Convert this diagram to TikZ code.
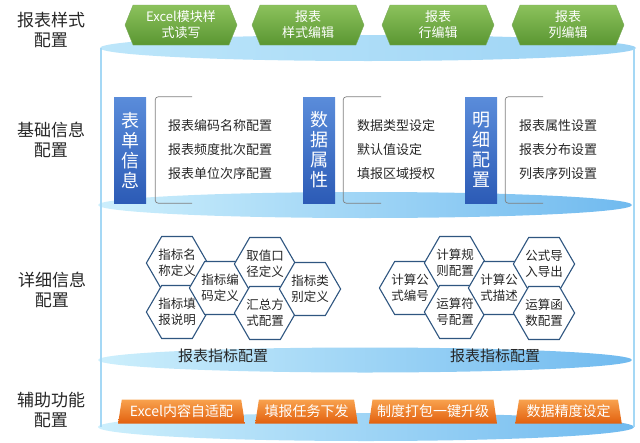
\documentclass[tikz,border=0pt]{standalone}
\usepackage{fontspec}
\setmainfont{Noto Sans CJK SC}
\usepackage{xcolor}
\usetikzlibrary{shapes.geometric,shapes.symbols,positioning}
\definecolor{discLeft}{HTML}{CDEFFC}
\definecolor{discRight}{HTML}{70BAEF}
\definecolor{discTopL}{HTML}{BDE6FA}
\definecolor{discTopR}{HTML}{9CD3F5}
\definecolor{wallBlue}{HTML}{A5D8F5}
\definecolor{greenTop}{HTML}{8CC25C}
\definecolor{greenBot}{HTML}{5A9632}
\definecolor{tagTop}{HTML}{5A8CDA}
\definecolor{tagBot}{HTML}{2C5BB6}
\definecolor{hexBorder}{HTML}{2F5680}
\definecolor{orangeTop}{HTML}{F8A24E}
\definecolor{orangeBot}{HTML}{E2600E}
\tikzset{
	layerdisc/.style = {
		ellipse,
		inner sep = 0pt,
		left color = discLeft,
		right color = discRight,
	},
	wall/.style = {draw = wallBlue, line width = 2.5pt},
	sidelabel/.style = {
		align = center,
		font = \fontsize{17}{20}\selectfont,
		text = black!85,
	},
	stylebox/.style = {
		signal,
		signal to = west and east,
		signal pointer angle = 136,
		minimum width = 112pt,
		minimum height = 40pt,
		inner sep = 0pt,
		align = center,
		text = white,
		font = \fontsize{13}{16}\selectfont,
		top color = greenTop,
		bottom color = greenBot,
		draw = greenBot!80!white,
	},
	tagbox/.style = {
		rectangle,
		minimum width = 32pt,
		minimum height = 106pt,
		inner sep = 0pt,
		align = center,
		text = white,
		font = \fontsize{18}{20}\selectfont,
		top color = tagTop,
		bottom color = tagBot,
	},
	itemlist/.style = {
		anchor = west,
		align = left,
		inner sep = 0pt,
		font = \fontsize{13}{24}\selectfont,
		text = black!85,
	},
	bracketline/.style = {draw = black!50, line width = 0.7pt, rounded corners = 3pt},
	hexcell/.style = {
		regular polygon,
		regular polygon sides = 6,
		minimum size = 56pt,
		inner sep = 0pt,
		draw = hexBorder,
		line width = 1.1pt,
		fill = white,
		align = center,
		font = \fontsize{12.5}{16}\selectfont,
		text = black!85,
	},
	fieldtitle/.style = {font = \fontsize{15}{18}\selectfont, text = black!85},
	auxbox/.style = {
		trapezium,
		trapezium stretches = true,
		trapezium left angle = 76,
		trapezium right angle = 76,
		minimum height = 24pt,
		inner sep = 0pt,
		text = white,
		font = \fontsize{14}{16}\selectfont,
		top color = orangeTop,
		bottom color = orangeBot,
	}
}
\begin{document}
\begin{tikzpicture}[x = 1pt, y = -1pt]
	\useasboundingbox (0,0) rectangle (640,442);
	% layers of the cylinder
	\node[layerdisc, minimum width = 536pt, minimum height = 26pt, left color = discTopL, right color = discTopR](discTop) at (368,48){};
	\node[layerdisc, minimum width = 534pt, minimum height = 26pt](discBase) at (365,205){};
	\node[layerdisc, minimum width = 534pt, minimum height = 25pt](discDetail) at (365,360){};
	\node[layerdisc, minimum width = 536pt, minimum height = 28pt](discAux) at (366,427){};
	\draw[wall]([xshift = 1pt]discTop.west) -- ([xshift = 1pt]discTop.west |- discAux.center);
	\draw[wall]([xshift = -2pt]discTop.east) -- ([xshift = -2pt]discTop.east |- discAux.center);
	
	% left labels
	\node[sidelabel](labStyle) at (51,30){报表样式\\配置};
	\node[sidelabel](labBase) at (51,140){基础信息\\配置};
	\node[sidelabel](labDetail) at (52,290){详细信息\\配置};
	\node[sidelabel](labAux) at (51,410){辅助功能\\配置};
	
	% style layer
	\node[stylebox](styleA) at (181,25){Excel模块样\\式读写};
	\node[stylebox](styleB) at (308,25){报表\\样式编辑};
	\node[stylebox](styleC) at (438,25){报表\\行编辑};
	\node[stylebox](styleD) at (568,25){报表\\列编辑};
	
	% base layer
	\node[tagbox](tagA) at (130,150){表\\单\\信\\息};
	\node[tagbox](tagB) at (319,150){数\\据\\属\\性};
	\node[tagbox](tagC) at (481,150){明\\细\\配\\置};
	\draw[bracketline]([xshift = 46pt]tagA.north east) -- ([xshift = 9pt]tagA.north east) -- ([xshift = 9pt]tagA.south east) -- ([xshift = 46pt]tagA.south east);
	\draw[bracketline]([xshift = 46pt]tagB.north east) -- ([xshift = 8pt]tagB.north east) -- ([xshift = 8pt]tagB.south east) -- ([xshift = 46pt]tagB.south east);
	\draw[bracketline]([xshift = 46pt]tagC.north east) -- ([xshift = 8pt]tagC.north east) -- ([xshift = 8pt]tagC.south east) -- ([xshift = 46pt]tagC.south east);
	\node[itemlist](listA) at (168,150){报表编码名称配置\\报表频度批次配置\\报表单位次序配置};
	\node[itemlist](listB) at (357,150){数据类型设定\\默认值设定\\填报区域授权};
	\node[itemlist](listC) at (519,150){报表属性设置\\报表分布设置\\列表序列设置};
	
	% detail layer
	\node[hexcell](hexA) at (177,263){指标名\\称定义};
	\node[hexcell](hexB) at (177,312){指标填\\报说明};
	\node[hexcell](hexC) at (220,288){指标编\\码定义};
	\node[hexcell](hexD) at (265,264){取值口\\径定义};
	\node[hexcell](hexE) at (265,313){汇总方\\式配置};
	\node[hexcell](hexF) at (310,289){指标类\\别定义};
	\node[hexcell](hexG) at (410,288){计算公\\式编号};
	\node[hexcell](hexH) at (455,263){计算规\\则配置};
	\node[hexcell](hexI) at (455,312){运算符\\号配置};
	\node[hexcell](hexJ) at (499,288){计算公\\式描述};
	\node[hexcell](hexK) at (544,264){公式导\\入导出};
	\node[hexcell](hexL) at (544,313){运算函\\数配置};
	\node[fieldtitle](titleA) at (223,356){报表指标配置};
	\node[fieldtitle](titleB) at (495,356){报表指标配置};
	
	% auxiliary layer
	\node[auxbox, minimum width = 127pt](auxA) at (181.5,411.5){Excel内容自适配};
	\node[auxbox, minimum width = 103pt](auxB) at (306.5,411.5){填报任务下发};
	\node[auxbox, minimum width = 128pt](auxC) at (433,411.5){制度打包一键升级};
	\node[auxbox, minimum width = 107pt](auxD) at (568.5,411.5){数据精度设定};
\end{tikzpicture}
\end{document}
